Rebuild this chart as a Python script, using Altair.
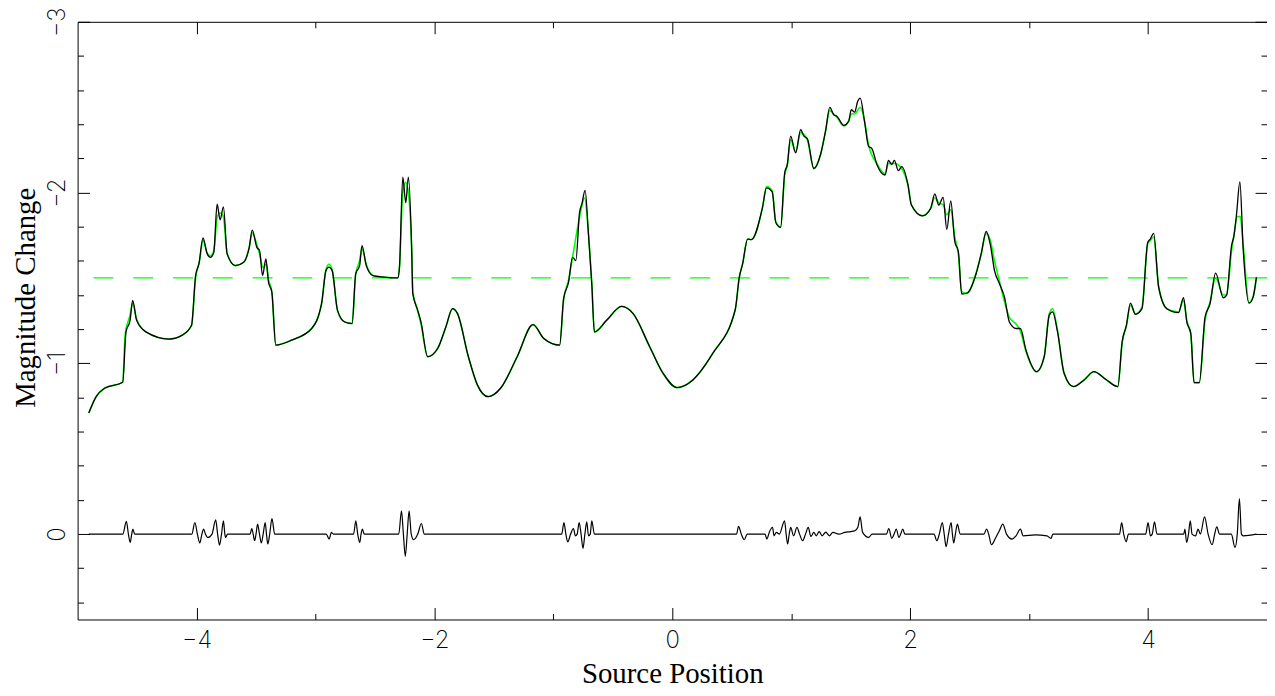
import altair as alt
import pandas as pd

# ---------------- data ----------------
black_x = [-4.906, -4.844, -4.774, -4.621, -4.593, -4.559, -4.537, -4.504, -4.426, -4.231,
           -4.120, -4.042, -4.008, -3.980, -3.946, -3.910, -3.883, -3.855, -3.827, -3.802,
           -3.774, -3.743, -3.674, -3.604, -3.557, -3.532, -3.493, -3.470, -3.445, -3.417,
           -3.395, -3.367, -3.334, -3.200, -3.032, -2.949, -2.912, -2.887, -2.860, -2.815,
           -2.754, -2.692, -2.662, -2.629, -2.609, -2.573, -2.517, -2.406, -2.308, -2.294,
           -2.266, -2.241, -2.219, -2.191, -2.182, -2.140, -2.113, -2.057, -1.973, -1.904,
           -1.848, -1.806, -1.715, -1.639, -1.549, -1.444, -1.304, -1.171, -1.081, -0.947,
           -0.914, -0.872, -0.839, -0.811, -0.780, -0.761, -0.733, -0.705, -0.677, -0.655,
           -0.552, -0.426, -0.329, -0.190, -0.078, 0.039, 0.173, 0.340, 0.529, 0.563,
           0.591, 0.633, 0.665, 0.758, 0.792, 0.840, 0.870, 0.911, 0.945, 0.967,
           0.995, 1.037, 1.079, 1.107, 1.135, 1.190, 1.246, 1.288, 1.324, 1.357,
           1.385, 1.441, 1.483, 1.505, 1.533, 1.558, 1.580, 1.616, 1.650, 1.678,
           1.720, 1.789, 1.817, 1.845, 1.867, 1.901, 1.929, 1.982, 2.010, 2.103,
           2.172, 2.207, 2.240, 2.277, 2.308, 2.341, 2.375, 2.405, 2.433, 2.479,
           2.550, 2.597, 2.639, 2.674, 2.709, 2.751, 2.793, 2.834, 2.890, 2.926,
           2.974, 3.063, 3.127, 3.169, 3.197, 3.239, 3.294, 3.372, 3.462, 3.545,
           3.643, 3.746, 3.782, 3.818, 3.852, 3.894, 3.949, 3.997, 4.019, 4.047,
           4.089, 4.158, 4.256, 4.298, 4.326, 4.359, 4.387, 4.431, 4.479, 4.521,
           4.568, 4.632, 4.660, 4.702, 4.722, 4.744, 4.772, 4.799, 4.849, 4.883,
           4.911]
black_y = [-0.709, -0.805, -0.854, -0.889, -1.184, -1.252, -1.369, -1.252, -1.184, -1.142,
           -1.165, -1.223, -1.514, -1.582, -1.734, -1.641, -1.621, -1.650, -1.932, -1.840,
           -1.916, -1.641, -1.572, -1.592, -1.679, -1.780, -1.679, -1.660, -1.514, -1.611,
           -1.475, -1.417, -1.107, -1.136, -1.204, -1.349, -1.543, -1.563, -1.543, -1.310,
           -1.242, -1.233, -1.524, -1.572, -1.689, -1.572, -1.514, -1.504, -1.501, -1.563,
           -2.091, -1.941, -2.091, -1.660, -1.408, -1.310, -1.242, -1.039, -1.087, -1.213,
           -1.320, -1.291, -1.040, -0.874, -0.805, -0.854, -1.039, -1.227, -1.146, -1.107,
           -1.379, -1.475, -1.621, -1.602, -1.883, -1.932, -2.013, -1.757, -1.466, -1.184,
           -1.252, -1.334, -1.291, -1.097, -0.942, -0.858, -0.903, -1.058, -1.314, -1.504,
           -1.582, -1.728, -1.725, -1.912, -2.028, -2.004, -1.825, -1.796, -2.116, -2.165,
           -2.330, -2.232, -2.368, -2.330, -2.316, -2.141, -2.223, -2.359, -2.499, -2.456,
           -2.446, -2.394, -2.417, -2.485, -2.471, -2.533, -2.553, -2.417, -2.271, -2.258,
           -2.165, -2.103, -2.188, -2.165, -2.188, -2.128, -2.152, -2.043, -1.927, -1.864,
           -1.907, -1.992, -1.927, -1.972, -1.784, -1.951, -1.713, -1.655, -1.406, -1.412,
           -1.514, -1.641, -1.772, -1.694, -1.543, -1.466, -1.388, -1.242, -1.204, -1.204,
           -1.077, -0.951, -1.039, -1.281, -1.301, -1.184, -0.942, -0.864, -0.903, -0.951,
           -0.907, -0.864, -1.126, -1.223, -1.353, -1.287, -1.320, -1.708, -1.728, -1.761,
           -1.446, -1.320, -1.297, -1.384, -1.242, -1.175, -0.887, -0.887, -1.271, -1.349,
           -1.528, -1.384, -1.398, -1.689, -1.747, -1.874, -2.063, -1.679, -1.353, -1.388,
           -1.504]

green_x = [-4.906, -4.844, -4.774, -4.621, -4.600, -4.560, -4.537, -4.504, -4.426, -4.231,
           -4.120, -4.042, -4.008, -3.975, -3.946, -3.910, -3.883, -3.855, -3.825, -3.800,
           -3.775, -3.743, -3.674, -3.604, -3.557, -3.532, -3.495, -3.470, -3.440, -3.415,
           -3.395, -3.367, -3.334, -3.200, -3.032, -2.949, -2.912, -2.887, -2.860, -2.815,
           -2.754, -2.692, -2.662, -2.630, -2.609, -2.573, -2.517, -2.406, -2.308, -2.294,
           -2.266, -2.242, -2.219, -2.191, -2.182, -2.150, -2.113, -2.057, -1.973, -1.904,
           -1.848, -1.806, -1.715, -1.639, -1.549, -1.444, -1.304, -1.171, -1.081, -0.947,
           -0.914, -0.872, -0.839, -0.800, -0.761, -0.738, -0.705, -0.677, -0.655, -0.552,
           -0.426, -0.329, -0.190, -0.078, 0.039, 0.173, 0.340, 0.529, 0.563, 0.591,
           0.633, 0.665, 0.758, 0.792, 0.840, 0.870, 0.911, 0.945, 0.967, 0.995,
           1.037, 1.079, 1.107, 1.135, 1.190, 1.246, 1.288, 1.324, 1.357, 1.385,
           1.441, 1.483, 1.505, 1.533, 1.580, 1.616, 1.650, 1.720, 1.789, 1.817,
           1.867, 1.929, 1.982, 2.010, 2.103, 2.172, 2.207, 2.240, 2.277, 2.308,
           2.341, 2.375, 2.405, 2.433, 2.479, 2.550, 2.597, 2.639, 2.674, 2.709,
           2.751, 2.793, 2.834, 2.890, 2.926, 2.974, 3.063, 3.127, 3.169, 3.197,
           3.239, 3.294, 3.372, 3.462, 3.545, 3.643, 3.746, 3.782, 3.818, 3.852,
           3.894, 3.949, 3.997, 4.019, 4.047, 4.089, 4.158, 4.256, 4.298, 4.326,
           4.359, 4.387, 4.431, 4.479, 4.521, 4.568, 4.632, 4.660, 4.702, 4.722,
           4.750, 4.775, 4.799, 4.849, 4.883, 4.911]
green_y = [-0.709, -0.805, -0.854, -0.889, -1.170, -1.280, -1.350, -1.260, -1.184, -1.142,
           -1.165, -1.223, -1.500, -1.600, -1.720, -1.645, -1.630, -1.660, -1.860, -1.880,
           -1.860, -1.645, -1.572, -1.592, -1.680, -1.765, -1.700, -1.640, -1.560, -1.580,
           -1.490, -1.420, -1.107, -1.136, -1.204, -1.349, -1.550, -1.580, -1.550, -1.310,
           -1.242, -1.233, -1.520, -1.600, -1.670, -1.580, -1.514, -1.504, -1.501, -1.560,
           -2.000, -2.060, -2.000, -1.660, -1.420, -1.330, -1.230, -1.039, -1.087, -1.213,
           -1.320, -1.291, -1.040, -0.874, -0.805, -0.854, -1.039, -1.227, -1.146, -1.107,
           -1.370, -1.490, -1.620, -1.780, -1.920, -1.970, -1.760, -1.466, -1.184, -1.252,
           -1.334, -1.291, -1.097, -0.942, -0.858, -0.903, -1.058, -1.314, -1.504, -1.582,
           -1.728, -1.725, -1.912, -2.035, -2.010, -1.830, -1.800, -2.100, -2.160, -2.310,
           -2.240, -2.350, -2.340, -2.310, -2.140, -2.220, -2.360, -2.480, -2.460, -2.440,
           -2.390, -2.420, -2.460, -2.460, -2.500, -2.420, -2.280, -2.170, -2.110, -2.170,
           -2.170, -2.140, -2.040, -1.930, -1.864, -1.907, -1.970, -1.940, -1.930, -1.870,
           -1.900, -1.740, -1.640, -1.420, -1.410, -1.520, -1.640, -1.760, -1.720, -1.600,
           -1.480, -1.360, -1.270, -1.230, -1.190, -1.070, -0.951, -1.039, -1.290, -1.320,
           -1.190, -0.942, -0.864, -0.903, -0.951, -0.907, -0.864, -1.120, -1.220, -1.340,
           -1.290, -1.330, -1.700, -1.720, -1.740, -1.450, -1.320, -1.300, -1.370, -1.250,
           -1.175, -0.887, -0.887, -1.250, -1.360, -1.500, -1.400, -1.400, -1.660, -1.750,
           -1.860, -1.860, -1.700, -1.353, -1.388, -1.504]

resid_x = [-4.906, -4.620, -4.590, -4.573, -4.558, -4.545, -4.536, -4.520, -4.040, -4.014,
           -3.993, -3.973, -3.955, -3.941, -3.925, -3.905, -3.870, -3.839, -3.823, -3.807,
           -3.790, -3.774, -3.762, -3.755, -3.740, -3.550, -3.536, -3.524, -3.512, -3.500,
           -3.487, -3.471, -3.455, -3.440, -3.423, -3.412, -3.401, -3.385, -3.366, -3.343,
           -2.910, -2.885, -2.866, -2.850, -2.680, -2.661, -2.645, -2.628, -2.617, -2.606,
           -2.590, -2.300, -2.277, -2.261, -2.245, -2.229, -2.213, -2.195, -2.175, -2.140,
           -2.110, -2.085, -0.930, -0.911, -0.895, -0.879, -0.855, -0.831, -0.815, -0.800,
           -0.783, -0.767, -0.751, -0.735, -0.719, -0.705, -0.690, -0.677, -0.655, 0.540,
           0.557, 0.580, 0.605, 0.630, 0.780, 0.795, 0.815, 0.843, 0.855, 0.875,
           0.900, 0.944, 0.957, 0.970, 0.983, 0.995, 1.020, 1.048, 1.070, 1.096,
           1.120, 1.143, 1.165, 1.190, 1.210, 1.235, 1.260, 1.290, 1.320, 1.350,
           1.400, 1.450, 1.500, 1.535, 1.560, 1.579, 1.600, 1.651, 1.680, 1.800,
           1.820, 1.845, 1.865, 1.883, 1.905, 1.920, 1.938, 1.955, 2.200, 2.224,
           2.245, 2.270, 2.286, 2.302, 2.322, 2.344, 2.355, 2.366, 2.380, 2.397,
           2.420, 2.620, 2.642, 2.660, 2.683, 2.720, 2.750, 2.779, 2.810, 2.858,
           2.890, 2.927, 2.950, 3.050, 3.150, 3.184, 3.200, 3.300, 3.760, 3.778,
           3.795, 3.816, 3.835, 3.980, 4.000, 4.020, 4.035, 4.054, 4.075, 4.300,
           4.310, 4.324, 4.340, 4.355, 4.370, 4.400, 4.420, 4.440, 4.475, 4.505,
           4.539, 4.560, 4.578, 4.600, 4.700, 4.731, 4.750, 4.768, 4.785, 4.800,
           4.911]
resid_y = [0.000, 0.000, -0.074, 0.000, 0.049, 0.000, -0.030, 0.000, 0.000, -0.068,
           0.000, 0.052, 0.000, -0.030, 0.000, 0.020, 0.000, -0.083, 0.000, 0.064,
           0.000, -0.078, 0.000, 0.020, 0.000, 0.000, -0.033, 0.000, 0.039, 0.000,
           -0.058, 0.000, 0.052, 0.000, -0.068, 0.000, 0.058, 0.000, -0.091, 0.000,
           0.000, 0.029, -0.010, 0.000, 0.000, -0.078, 0.000, 0.049, 0.000, -0.030,
           0.000, 0.000, -0.136, 0.000, 0.130, 0.000, -0.136, 0.000, 0.033, 0.000,
           -0.062, 0.000, 0.000, -0.068, 0.000, 0.045, 0.000, -0.033, 0.010, 0.000,
           -0.068, 0.000, 0.083, 0.000, -0.072, 0.010, 0.000, -0.078, 0.000, 0.000,
           -0.045, 0.000, 0.033, 0.000, 0.000, 0.029, -0.010, -0.040, 0.010, -0.010,
           0.000, -0.078, 0.000, 0.058, 0.000, -0.039, 0.010, -0.039, 0.000, 0.039,
           0.000, -0.039, 0.014, -0.010, 0.010, -0.015, 0.010, -0.012, 0.010, -0.010,
           0.000, -0.010, -0.015, -0.020, -0.040, -0.101, -0.010, 0.019, 0.000, 0.000,
           -0.033, 0.025, 0.000, -0.030, 0.020, 0.000, -0.030, 0.000, 0.000, 0.039,
           0.000, -0.068, 0.000, 0.074, 0.000, -0.068, 0.000, 0.052, 0.000, -0.058,
           0.000, 0.000, -0.029, 0.000, 0.062, 0.020, -0.020, -0.058, 0.000, 0.029,
           0.010, -0.029, 0.010, 0.005, 0.010, 0.025, 0.000, 0.000, 0.000, -0.068,
           0.000, 0.045, 0.000, 0.000, -0.068, 0.010, 0.000, -0.072, 0.000, 0.000,
           -0.030, 0.049, 0.000, -0.078, 0.000, 0.010, -0.030, 0.000, -0.101, 0.000,
           0.062, 0.000, -0.043, 0.000, 0.000, 0.078, 0.000, -0.208, 0.000, 0.010,
           0.000]

threshold = [-1.5]

x_major = [-4, -2, 0, 2, 4]
x_minor = [-3, -1, 1, 3]
y_major = [-3, -2, -1, 0]
y_minor = [-2.8, -2.6, -2.4, -2.2, -1.8, -1.6, -1.4, -1.2,
           -0.8, -0.6, -0.4, -0.2, 0.2, 0.4]

# ---------------- chart ----------------
df_black = pd.DataFrame({"x": black_x, "y": black_y})
df_green = pd.DataFrame({"x": green_x, "y": green_y})
df_resid = pd.DataFrame({"x": resid_x, "y": resid_y})
df_thr = pd.DataFrame({"y": threshold})

xs = alt.Scale(domain=[-5, 5], nice=False, zero=False)
ys = alt.Scale(domain=[-3, 0.5], nice=False, zero=False, reverse=True)

LABEL_FONT = "Inter"
TITLE_FONT = "Liberation Serif"
MAJOR = 12
MINOR = 6


def tick_axis(orient, values, size):
    return alt.Axis(orient=orient, values=values, tickSize=size, offset=-size,
                    labels=False, domain=False, grid=False, ticks=True,
                    tickColor="#000000", tickWidth=1, title=None)


x_label_axis = alt.Axis(orient="bottom", values=x_major, ticks=False, domain=False,
                        grid=False, labelFont=LABEL_FONT, labelFontSize=24,
                        labelFontWeight=200, labelColor="#000000", labelPadding=9,
                        labelFlush=False,
                        title="Source Position", titleFont=TITLE_FONT, titleFontSize=29,
                        titleFontWeight="normal", titleColor="#000000",
                        titleBaseline="alphabetic", titleY=63)

y_label_axis = alt.Axis(orient="left", values=y_major, ticks=False, domain=False,
                        grid=False, labelFont=LABEL_FONT, labelFontSize=24,
                        labelFontWeight=200, labelColor="#000000", labelAngle=270,
                        labelAlign="center", labelBaseline="alphabetic", labelPadding=13,
                        labelFlush=False,
                        title="Magnitude Change", titleFont=TITLE_FONT, titleFontSize=29,
                        titleFontWeight="normal", titleColor="#000000", titleAngle=270,
                        titleAlign="center", titleBaseline="alphabetic",
                        titleX=-43, titleY=277)

rule = alt.Chart(df_thr).mark_rule(color="#00ff00", strokeWidth=1.2,
                                   strokeDash=[20, 20]).encode(
    y=alt.Y("y:Q", scale=ys, axis=y_label_axis)
)

green = alt.Chart(df_green).mark_line(color="#00ff00", strokeWidth=1.6,
                                      interpolate="monotone").encode(
    x=alt.X("x:Q", scale=xs, axis=x_label_axis),
    y=alt.Y("y:Q", scale=ys, axis=tick_axis("left", y_major, MAJOR)),
)

black = alt.Chart(df_black).mark_line(color="#000000", strokeWidth=1.3,
                                      interpolate="monotone").encode(
    x=alt.X("x:Q", scale=xs, axis=tick_axis("bottom", x_major, MAJOR)),
    y=alt.Y("y:Q", scale=ys, axis=tick_axis("left", y_minor, MINOR)),
)

resid = alt.Chart(df_resid).mark_line(color="#000000", strokeWidth=1.2,
                                      interpolate="monotone").encode(
    x=alt.X("x:Q", scale=xs, axis=tick_axis("bottom", x_minor, MINOR)),
    y=alt.Y("y:Q", scale=ys, axis=tick_axis("right", y_major, MAJOR)),
)

carrier1 = alt.Chart(df_black).mark_line(opacity=0).encode(
    x=alt.X("x:Q", scale=xs, axis=tick_axis("top", x_major, MAJOR)),
    y=alt.Y("y:Q", scale=ys, axis=tick_axis("right", y_minor, MINOR)),
)

carrier2 = alt.Chart(df_black).mark_point(opacity=0).encode(
    x=alt.X("x:Q", scale=xs, axis=tick_axis("top", x_minor, MINOR)),
)

chart = alt.layer(rule, green, black, resid, carrier1, carrier2).resolve_axis(
    x="independent", y="independent"
).properties(
    width=1196, height=601,
    autosize=alt.AutoSizeParams(type="none"),
    padding={"left": 70, "top": 12, "right": 0, "bottom": 67},
    background="#ffffff",
).configure_view(stroke="#000000", strokeWidth=1)

chart.save("out.html", embed_options={"renderer": "svg", "actions": False})
